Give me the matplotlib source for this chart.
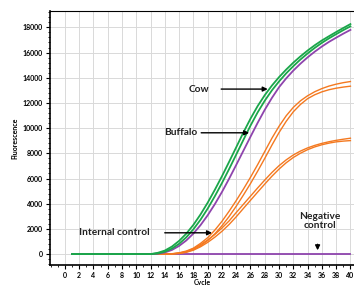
import matplotlib
matplotlib.use("Agg")
import matplotlib.pyplot as plt
from matplotlib.ticker import MultipleLocator

plt.rcParams['font.family'] = ['Lato', 'DejaVu Sans']

# Cycles 1..40
cycles = list(range(1, 41))

flat = [0] * 12
cow_1 = flat + [100, 280, 600, 1050, 1620, 2320, 3150, 4080, 5100, 6180, 7320, 8480,
                9650, 10750, 11750, 12620, 13380, 14050, 14650, 15200, 15700, 16160,
                16580, 16960, 17300, 17630, 17950, 18260]
cow_2 = flat + [50, 190, 440, 820, 1330, 1970, 2730, 3610, 4590, 5640, 6750, 7900,
                9060, 10200, 11250, 12180, 13000, 13710, 14350, 14920, 15450, 15930,
                16370, 16770, 17130, 17460, 17780, 18080]
buffalo = flat + [30, 130, 330, 650, 1080, 1630, 2300, 3080, 3960, 4930, 5980, 7080,
                  8200, 9320, 10420, 11460, 12400, 13250, 13950, 14570, 15120, 15620,
                  16070, 16480, 16850, 17180, 17500, 17800]
ic_high_1 = [0] * 14 + [30, 100, 240, 470, 850, 1300, 1900, 2600, 3400, 4250, 5150, 6100,
                        7100, 8150, 9200, 10150, 10980, 11650, 12170, 12570, 12890, 13140,
                        13340, 13490, 13610, 13700]
ic_high_2 = [0] * 14 + [15, 65, 170, 360, 660, 1070, 1600, 2250, 2980, 3800, 4680, 5600,
                        6580, 7600, 8650, 9650, 10540, 11300, 11880, 12340, 12650, 12880,
                        13050, 13170, 13260, 13330]
ic_low_1 = [0] * 14 + [20, 80, 200, 420, 750, 1120, 1560, 2070, 2630, 3300, 3950, 4600,
                       5250, 5880, 6480, 7020, 7480, 7870, 8180, 8430, 8630, 8790,
                       8920, 9030, 9120, 9200]
ic_low_2 = [0] * 14 + [12, 50, 140, 310, 580, 930, 1340, 1810, 2350, 2960, 3620, 4270,
                       4920, 5560, 6180, 6750, 7250, 7670, 8010, 8290, 8510, 8680,
                       8810, 8910, 8970, 9010]
negative = [0] * 40

green = '#1aa64a'
purple = '#8e44ad'
orange = '#f47920'

fig = plt.figure(figsize=(3.54, 2.85), dpi=100)
ax = fig.add_axes([0.141, 0.070, 0.859, 0.891])

ax.plot(cycles, negative, color=purple, lw=1.3)
for ys in [ic_low_2, ic_low_1, ic_high_2, ic_high_1]:
    ax.plot(cycles, ys, color=orange, lw=1.0)
ax.plot(cycles, buffalo, color=purple, lw=1.3)
ax.plot(cycles, cow_2, color=green, lw=1.3)
ax.plot(cycles, cow_1, color=green, lw=1.3)

ax.set_xlim(-2.1, 40.5)
ax.set_ylim(-870, 19290)
ax.set_xticks(range(0, 41, 2))
ax.xaxis.set_minor_locator(MultipleLocator(1))
ax.yaxis.set_major_locator(MultipleLocator(2000))
ax.yaxis.set_minor_locator(MultipleLocator(400))
ax.grid(True, which='major', color='#d9d9d9', lw=0.7)
ax.set_axisbelow(True)

ax.tick_params(axis='both', which='major', labelsize=5, length=3, width=0.8, pad=2)
ax.tick_params(axis='both', which='minor', length=1.5, width=0.6)
for lab in ax.get_xticklabels() + ax.get_yticklabels():
    lab.set_fontweight('bold')
ax.spines['right'].set_visible(False)
ax.spines['left'].set_linewidth(1.2)
ax.spines['bottom'].set_linewidth(1.2)
ax.spines['top'].set_linewidth(0.8)

ax.set_ylabel('Fluorescence', fontsize=5, fontweight='bold', labelpad=3)
ax.set_xlabel('Cycle', fontsize=5, fontweight='bold', labelpad=0)

arrow = dict(arrowstyle='-|>', color='black', lw=1.0, mutation_scale=7)
txt = dict(fontsize=7.3, fontweight='bold', va='center', color='#222222')

ax.annotate('', xy=(28.8, 13100), xytext=(21.5, 13100), arrowprops=arrow)
ax.text(18.8, 13100, 'Cow', ha='center', **txt)

ax.annotate('', xy=(26.2, 9630), xytext=(18.7, 9630), arrowprops=arrow)
ax.text(18.6, 9630, 'Buffalo', ha='right', **txt)

ax.annotate('', xy=(21.0, 1690), xytext=(13.6, 1690), arrowprops=arrow)
ax.text(6.9, 1690, 'Internal control', ha='center', **txt)

ax.annotate('', xy=(35.4, 80), xytext=(35.4, 1000), arrowprops=arrow)
ax.text(35.7, 2600, 'Negative\ncontrol', ha='center', linespacing=1.0, **txt)

fig.savefig('out.png', dpi=100)
